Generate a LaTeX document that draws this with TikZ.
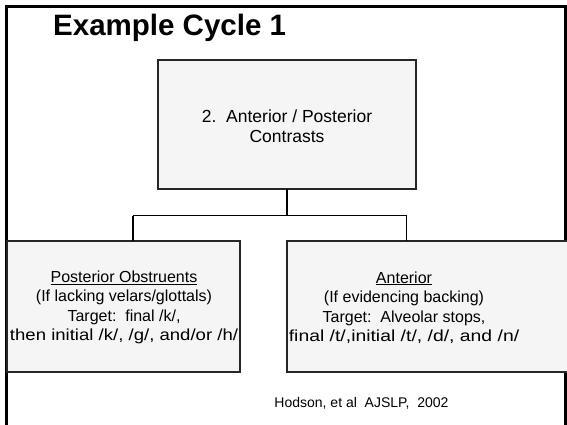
\documentclass[tikz,border=0pt]{standalone}
\usepackage{fontspec}
\setmainfont{Liberation Sans}
\usetikzlibrary{shadows}
\newcommand{\wideline}[2]{\scalebox{#1}[1]{#2}}
\begin{document}
\begin{tikzpicture}[x=1pt,y=-1pt,
  frameline/.style={line width=3pt,black},
  box/.style={draw=black!85,line width=1.3pt,fill=black!4,
    drop shadow={shadow xshift=1.2pt,shadow yshift=-1.2pt,opacity=0.45,fill=black!60},
    inner sep=0pt,outer sep=0pt},
  boxtext/.style={align=center,font=\fontsize{16}{19.5}\selectfont,inner sep=0pt},
  link/.style={line width=1.4pt,black}]
\useasboundingbox (0,0) rectangle (567,424);
\clip (0,0) rectangle (567,424);

% slide frame
\draw[frameline] (6,440) -- (6,6) -- (565,6) -- (565,440);

% title
\node[anchor=base west,inner sep=0pt,font=\fontsize{29.5}{36}\selectfont\bfseries] (title) at (53,35) {Example Cycle 1};

% top box
\node[box,minimum width=258pt,minimum height=129pt] (top) at (287,124.5) {};
\node[boxtext,font=\fontsize{17.5}{20}\selectfont] (toptext) at (287,126) {2.\ \ Anterior / Posterior\\Contrasts};

% left box
\node[box,minimum width=233pt,minimum height=131pt] (left) at (123.5,306.5) {};
\node[boxtext] (lefttext) at (124,307.5) {\underline{Posterior Obstruents}\\(If lacking velars/glottals)\\Target:\ \ final /k/,\\\wideline{1.16}{then initial /k/, /g/, and/or /h/}};

% right box
\node[box,minimum width=320pt,minimum height=131pt,anchor=west] (right) at (287,306.5) {};
\node[boxtext] (righttext) at (404,307.5) {\underline{Anterior}\\(If evidencing backing)\\Target:\ \ Alveolar stops,\\\wideline{1.21}{final /t/,initial /t/, /d/, and /n/}};

% connectors
\coordinate (split) at (287,215.5);
\coordinate (lj) at (133,215.5);
\coordinate (rj) at (406.5,215.5);
\draw[link] (top.south) -- (split);
\draw[link] (lj) -- (rj);
\draw[link] (lj) -- (lj |- left.north);
\draw[link] (rj) -- (rj |- right.north);

% citation
\node[anchor=base,inner sep=0pt,font=\fontsize{14}{16}\selectfont] (cite) at (361.5,407.5) {Hodson, et al\ \ AJSLP,\ \ 2002};
\end{tikzpicture}
\end{document}
